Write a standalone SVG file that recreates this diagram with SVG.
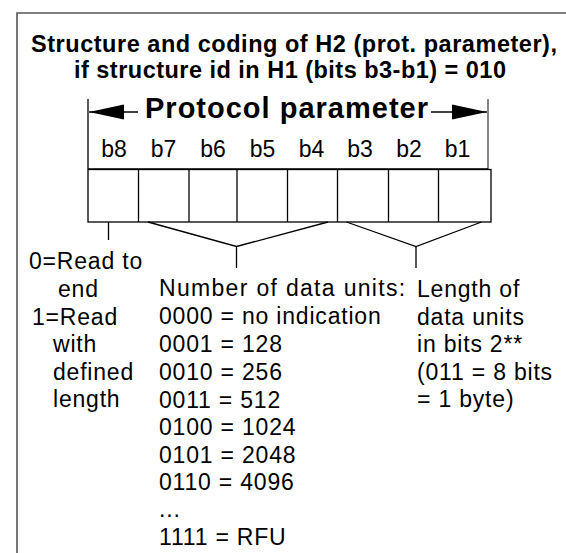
<svg xmlns="http://www.w3.org/2000/svg" width="566" height="553" viewBox="0 0 566 553">
<defs>
<style>
.ln{stroke:#000;stroke-width:1.3;fill:none}
.fr{stroke:#555;stroke-width:1.6;fill:none}
.cell{stroke:#000;stroke-width:1.3;fill:#fff}
.t{font-family:"Liberation Sans",Arial,sans-serif;font-size:23px;fill:#000;letter-spacing:0.8px}
.b{font-family:"Liberation Sans",Arial,sans-serif;font-weight:bold;fill:#000}
.bit{font-family:"Liberation Sans",Arial,sans-serif;font-size:23px;fill:#000;text-anchor:middle}
</style>
<marker id="ah" markerWidth="36" markerHeight="18" refX="35" refY="8" orient="auto" markerUnits="userSpaceOnUse">
<path d="M0,0.5 L35,8 L0,15.5 Z" fill="#000"/>
</marker>
</defs>
<rect width="566" height="553" fill="#fff"/>
<g id="frame">
<polyline class="fr" points="17,553 17,13 566,13"/>
</g>
<g id="title">
<text class="b" x="31" y="52" font-size="23.5" textLength="526" lengthAdjust="spacing">Structure and coding of H2 (prot. parameter),</text>
<text class="b" x="74" y="78" font-size="23.5" textLength="432" lengthAdjust="spacing">if structure id in H1 (bits b3-b1) = 010</text>
</g>
<g id="header">
<line class="ln" x1="88" y1="99" x2="88" y2="169"/>
<line x1="488" y1="99" x2="488" y2="169" stroke="#666" stroke-width="1.6"/>
<line class="ln" x1="88" y1="169" x2="488" y2="169"/>
<line class="ln" x1="138" y1="112" x2="89" y2="112" marker-end="url(#ah)"/>
<line class="ln" x1="431" y1="112" x2="487" y2="112" marker-end="url(#ah)"/>
<text class="b" x="145" y="118" font-size="29" textLength="283" lengthAdjust="spacing">Protocol  parameter</text>
</g>
<g id="bit-labels">
<text class="bit" x="114" y="157">b8</text>
<text class="bit" x="163.5" y="157">b7</text>
<text class="bit" x="213" y="157">b6</text>
<text class="bit" x="262.5" y="157">b5</text>
<text class="bit" x="311.5" y="157">b4</text>
<text class="bit" x="360" y="157">b3</text>
<text class="bit" x="409" y="157">b2</text>
<text class="bit" x="457.5" y="157">b1</text>
</g>
<g id="cells">
<rect class="cell" x="88" y="169.5" width="403" height="52.5"/>
<line class="ln" x1="138.5" y1="169.5" x2="138.5" y2="222"/>
<line class="ln" x1="189" y1="169.5" x2="189" y2="222"/>
<line class="ln" x1="237" y1="169.5" x2="237" y2="222"/>
<line class="ln" x1="287.5" y1="169.5" x2="287.5" y2="222"/>
<line class="ln" x1="337.5" y1="169.5" x2="337.5" y2="222"/>
<line class="ln" x1="388.5" y1="169.5" x2="388.5" y2="222"/>
<line class="ln" x1="438.5" y1="169.5" x2="438.5" y2="222"/>
</g>
<g id="connectors">
<line class="ln" x1="108.5" y1="222" x2="108.5" y2="240"/>
<polyline class="ln" points="148,222 236.5,246.5 328,222"/>
<line class="ln" x1="236.5" y1="246.5" x2="236.5" y2="268"/>
<polyline class="ln" points="346.5,222 416,246.5 481.5,222"/>
<line class="ln" x1="416" y1="246.5" x2="416" y2="268"/>
</g>
<g id="node-read-mode">
<text class="t" x="29" y="269">0=Read to</text>
<text class="t" x="58" y="297">end</text>
<text class="t" x="32" y="325">1=Read</text>
<text class="t" x="53" y="352">with</text>
<text class="t" x="53" y="380">defined</text>
<text class="t" x="53" y="407">length</text>
</g>
<g id="node-data-units">
<text class="t" x="159" y="296" textLength="247" lengthAdjust="spacing">Number of data units:</text>
<text class="t" x="159" y="324">0000 = no indication</text>
<text class="t" x="159" y="352">0001 = 128</text>
<text class="t" x="159" y="379.5">0010 = 256</text>
<text class="t" x="159" y="407.5">0011 = 512</text>
<text class="t" x="159" y="435">0100 = 1024</text>
<text class="t" x="159" y="462.5">0101 = 2048</text>
<text class="t" x="159" y="490">0110 = 4096</text>
<text class="t" x="159" y="517">...</text>
<text class="t" x="159" y="545">1111 = RFU</text>
</g>
<g id="node-length">
<text class="t" x="417" y="297">Length of</text>
<text class="t" x="417" y="325">data units</text>
<text class="t" x="417" y="352">in bits 2**</text>
<text class="t" x="417" y="380">(011 = 8 bits</text>
<text class="t" x="417" y="407">= 1 byte)</text>
</g>
</svg>
